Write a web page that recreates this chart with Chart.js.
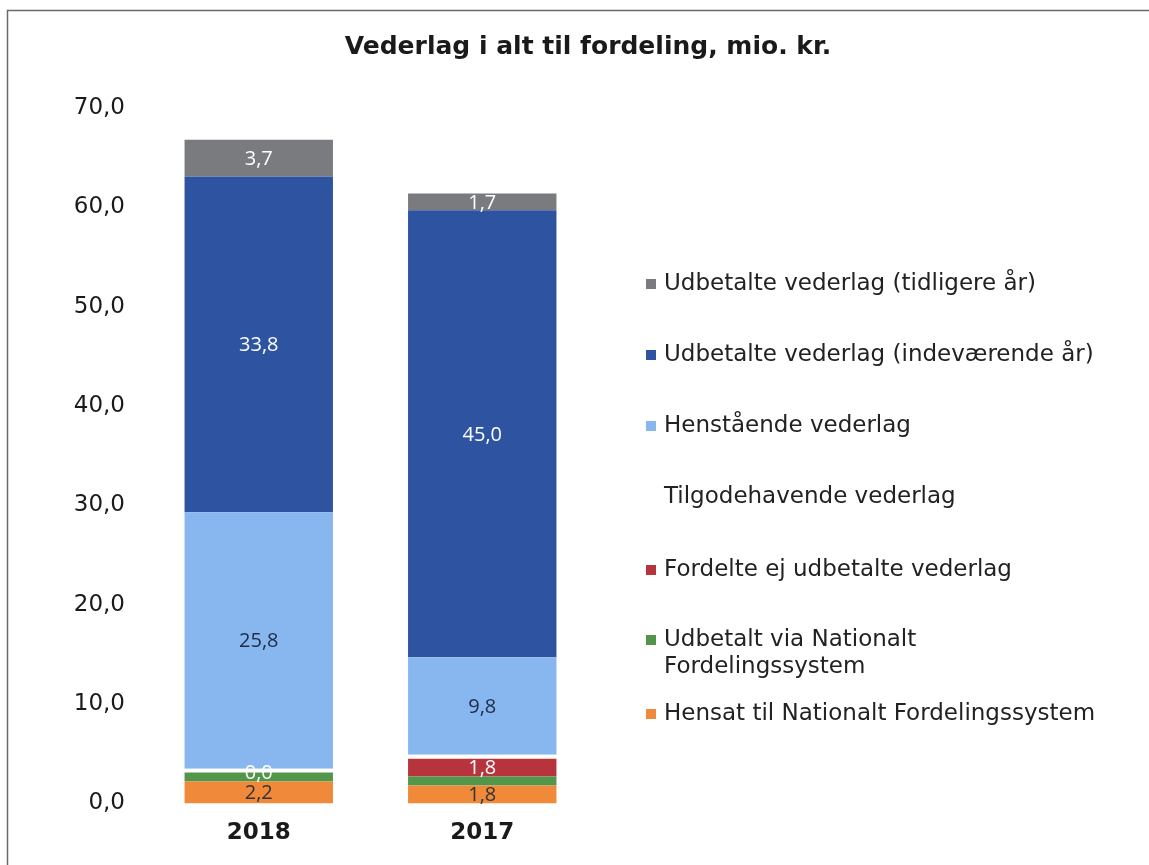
<!DOCTYPE html>
<html>
<head>
<meta charset="utf-8">
<script src="https://cdn.jsdelivr.net/npm/chart.js@4/dist/chart.umd.min.js"></script>
<style>
  html, body { margin: 0; padding: 0; background: #fff; }
  #wrap { position: relative; width: 1149px; height: 865px; }
</style>
</head>
<body>
<div id="wrap"><canvas id="chart" width="1149" height="865"></canvas></div>
<script>
// data
const years = ["2018", "2017"];
const seriesNames = [
    "Hensat til Nationalt Fordelingssystem",
    "Udbetalt via Nationalt Fordelingssystem",
    "Fordelte ej udbetalte vederlag",
    "Tilgodehavende vederlag",
    "Henstående vederlag",
    "Udbetalte vederlag (indeværende år)",
    "Udbetalte vederlag (tidligere år)"
];
const hensat = [2.2, 1.8];
const udbetaltNational = [0.9, 0.9];
const fordelteEj = [0.0, 1.8];
const tilgodehavende = [0.4, 0.4];
const henstaaende = [25.8, 9.8];
const udbetaltIndev = [33.8, 45.0];
const udbetaltTidl = [3.7, 1.7];
const yTicks = [0, 10, 20, 30, 40, 50, 60, 70];

const seriesValues = [hensat, udbetaltNational, fordelteEj, tilgodehavende, henstaaende, udbetaltIndev, udbetaltTidl];
const colors = ["#f08a3a", "#52964a", "#b8343c", "#ffffff", "#88b6ee", "#2e54a1", "#797b7f"];
const labelColors = ["#333333", null, "#ffffff", null, "#1d2c48", "#ffffff", "#ffffff"];
const legendLabels = [
    ["Hensat til Nationalt Fordelingssystem"],
    ["Udbetalt via Nationalt", "Fordelingssystem"],
    ["Fordelte ej udbetalte vederlag"],
    ["Tilgodehavende vederlag"],
    ["Henstående vederlag"],
    ["Udbetalte vederlag (indeværende år)"],
    ["Udbetalte vederlag (tidligere år)"]
];

function fmt(v) {
    return v.toFixed(1).replace(".", ",");
}

const datasets = seriesNames.map((name, i) => ({
    label: name,
    data: seriesValues[i],
    backgroundColor: colors[i],
    borderWidth: 0,
    barPercentage: 0.664,
    categoryPercentage: 1.0
}));

// frame, title, value labels, legend
const extras = {
    id: "extras",
    beforeDraw(chart) {
        const c = chart.ctx;
        c.save();
        c.fillStyle = "#fff";
        c.fillRect(0, 0, chart.width, chart.height);
        c.strokeStyle = "#6a6a6a";
        c.lineWidth = 1.5;
        c.beginPath();
        c.moveTo(7.5, chart.height);
        c.lineTo(7.5, 10.5);
        c.lineTo(chart.width, 10.5);
        c.stroke();

        c.fillStyle = "#1a1a1a";
        c.font = "bold 25px 'DejaVu Sans'";
        c.textAlign = "center";
        c.textBaseline = "middle";
        c.fillText("Vederlag i alt til fordeling, mio. kr.", 588, 47);
        c.restore();
    },
    afterDatasetsDraw(chart) {
        const c = chart.ctx;
        c.save();
        c.font = "20px 'Open Sans'";
        c.textAlign = "center";
        c.textBaseline = "middle";
        chart.data.datasets.forEach((ds, i) => {
            if (!labelColors[i]) return;
            const meta = chart.getDatasetMeta(i);
            meta.data.forEach((bar, j) => {
                const top = Math.min(bar.y, bar.base);
                const bottom = Math.max(bar.y, bar.base);
                c.fillStyle = labelColors[i];
                c.fillText(fmt(ds.data[j]), bar.x, (top + bottom) / 2 + 1);
            });
        });

        // legend, reversed order
        const lx = 646, tx = 664;
        const ys = [284, 355, 426, 497, 570, 640, 714];
        c.font = "23px 'DejaVu Sans'";
        c.textAlign = "left";
        for (let k = 0; k < seriesNames.length; k++) {
            const i = seriesNames.length - 1 - k;
            const y = ys[k];
            if (colors[i] !== "#ffffff") {
                c.fillStyle = colors[i];
                c.fillRect(lx, y - 5, 10, 10);
            }
            c.fillStyle = "#222";
            legendLabels[i].forEach((line, n) => {
                c.fillText(line, tx, y + n * 27);
            });
        }
        c.restore();
    }
};

new Chart(document.getElementById("chart"), {
    type: "bar",
    data: { labels: years, datasets: datasets },
    options: {
        responsive: false,
        animation: false,
        layout: { padding: { top: 108, right: 555, bottom: 2, left: 0 } },
        plugins: {
            legend: { display: false },
            title: { display: false },
            tooltip: { enabled: false }
        },
        scales: {
            x: {
                stacked: true,
                grid: { display: false, drawTicks: false },
                border: { display: false },
                ticks: {
                    padding: 16,
                    color: "#1a1a1a",
                    font: { family: "DejaVu Sans", size: 23, weight: "bold" }
                }
            },
            y: {
                stacked: true,
                min: 0,
                max: 70,
                afterFit(scale) { scale.width = 147; },
                afterBuildTicks(scale) { scale.ticks = yTicks.map(v => ({ value: v })); },
                grid: { display: false, drawTicks: false },
                border: { display: false },
                ticks: {
                    padding: 22,
                    color: "#1a1a1a",
                    font: { family: "DejaVu Sans", size: 23 },
                    callback: v => fmt(v)
                }
            }
        }
    },
    plugins: [extras]
});
</script>
</body>
</html>
